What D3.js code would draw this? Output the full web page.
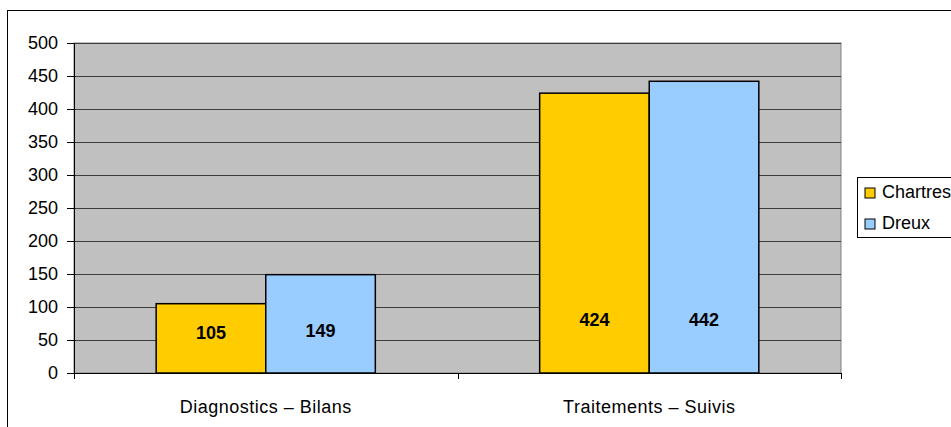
<!DOCTYPE html>
<html><head><meta charset="utf-8">
<script src="https://cdn.jsdelivr.net/npm/d3@7"></script>
<style>
html,body{margin:0;padding:0;background:#fff;}
svg{display:block;font-family:"Liberation Sans",Arial,sans-serif;}
</style></head>
<body>
<svg id="chart" width="951" height="427"></svg>
<script>
const categories = ["Diagnostics – Bilans", "Traitements – Suivis"];
const seriesNames = ["Chartres", "Dreux"];
const chartres = [105, 424];
const dreux = [149, 442];
const yTicks = [0, 50, 100, 150, 200, 250, 300, 350, 400, 450, 500];
const colors = ["#FFCC00", "#99CCFF"];

(function () {
const series = [chartres, dreux];
const svg = d3.select("#chart");

// outer frame
svg.append("rect").attr("x", 7.5).attr("y", 10.5).attr("width", 960).attr("height", 440)
  .attr("fill", "#fff").attr("stroke", "#000").attr("stroke-width", 1);

const pLeft = 74, pRight = 841, pTop = 43, pBottom = 373;
const x = d3.scaleBand().domain(categories).range([pLeft, pRight]).paddingInner(0).paddingOuter(0);
const y = d3.scaleLinear().domain([0, 500]).range([pBottom, pTop]);

// plot area
svg.append("rect").attr("x", pLeft).attr("y", pTop).attr("width", pRight - pLeft).attr("height", pBottom - pTop)
  .attr("fill", "#C0C0C0").attr("stroke", "#808080").attr("stroke-width", 1);

// gridlines
svg.append("g").selectAll("line").data(yTicks).join("line")
  .attr("x1", pLeft).attr("x2", pRight)
  .attr("y1", d => Math.round(y(d)) + 0.5).attr("y2", d => Math.round(y(d)) + 0.5)
  .attr("stroke", "#3c3c3c").attr("stroke-width", 1);

// bars
const inner = d3.scaleBand().domain(seriesNames).range([0, x.bandwidth()]).paddingOuter(0.75).paddingInner(0);
const groups = svg.append("g").selectAll("g").data(categories).join("g")
  .attr("transform", d => `translate(${x(d)},0)`);
groups.selectAll("rect").data((c, i) => seriesNames.map((s, j) => ({s, v: series[j][i], j})))
  .join("rect")
  .attr("x", d => inner(d.s)).attr("width", inner.bandwidth())
  .attr("y", d => y(d.v)).attr("height", d => y(0) - y(d.v))
  .attr("fill", d => colors[d.j]).attr("stroke", "#000").attr("stroke-width", 1.5);

// data labels
groups.each(function(c, i) {
  const base = i === 0 ? 35 : 47;
  d3.select(this).selectAll("text.lbl").data(seriesNames.map((s, j) => ({s, v: series[j][i], j})))
    .join("text").attr("class", "lbl")
    .attr("x", d => inner(d.s) + inner.bandwidth() / 2)
    .attr("y", d => y(0) - base + (i === 0 && d.j === 0 ? 1 : (i === 0 ? -1 : 0)))
    .attr("text-anchor", "middle").attr("font-weight", "bold").attr("font-size", 18)
    .text(d => d.v);
});

// y axis
const yAxis = svg.append("g").attr("transform", `translate(${pLeft},0)`)
  .call(d3.axisLeft(y).tickValues(yTicks).tickSize(7).tickPadding(9).tickSizeOuter(0));
yAxis.select(".domain").attr("stroke", "#000");
yAxis.selectAll(".tick line").attr("stroke", "#000");
yAxis.selectAll(".tick text").attr("font-size", 18).attr("fill", "#000")
  .attr("font-family", "Liberation Sans, Arial, sans-serif");

// x axis
const xAxis = svg.append("g").attr("transform", `translate(0,${pBottom})`)
  .call(d3.axisBottom(x).tickSize(0).tickPadding(27).tickSizeOuter(0));
xAxis.select(".domain").attr("stroke", "#000");
xAxis.selectAll(".tick text").attr("font-size", 18).attr("fill", "#000")
  .attr("letter-spacing", "0.5px")
  .attr("font-family", "Liberation Sans, Arial, sans-serif");
// category boundary ticks
const bounds = [pLeft, ...categories.slice(1).map(c => x(c)), pRight];
svg.append("g").selectAll("line").data(bounds).join("line")
  .attr("x1", d => Math.round(d) + 0.5).attr("x2", d => Math.round(d) + 0.5)
  .attr("y1", pBottom).attr("y2", pBottom + 6).attr("stroke", "#000");

// legend
const lg = svg.append("g");
lg.append("rect").attr("x", 857.5).attr("y", 177.5).attr("width", 120).attr("height", 60)
  .attr("fill", "#fff").attr("stroke", "#000").attr("stroke-width", 1);
seriesNames.forEach((s, j) => {
  const by = 198 + j * 31;
  lg.append("rect").attr("x", 865).attr("y", by - 10).attr("width", 10).attr("height", 10)
    .attr("fill", colors[j]).attr("stroke", "#000").attr("stroke-width", 1);
  lg.append("text").attr("x", 882).attr("y", by).attr("font-size", 18).attr("fill", "#000").text(s);
});
})();
</script>
</body></html>
